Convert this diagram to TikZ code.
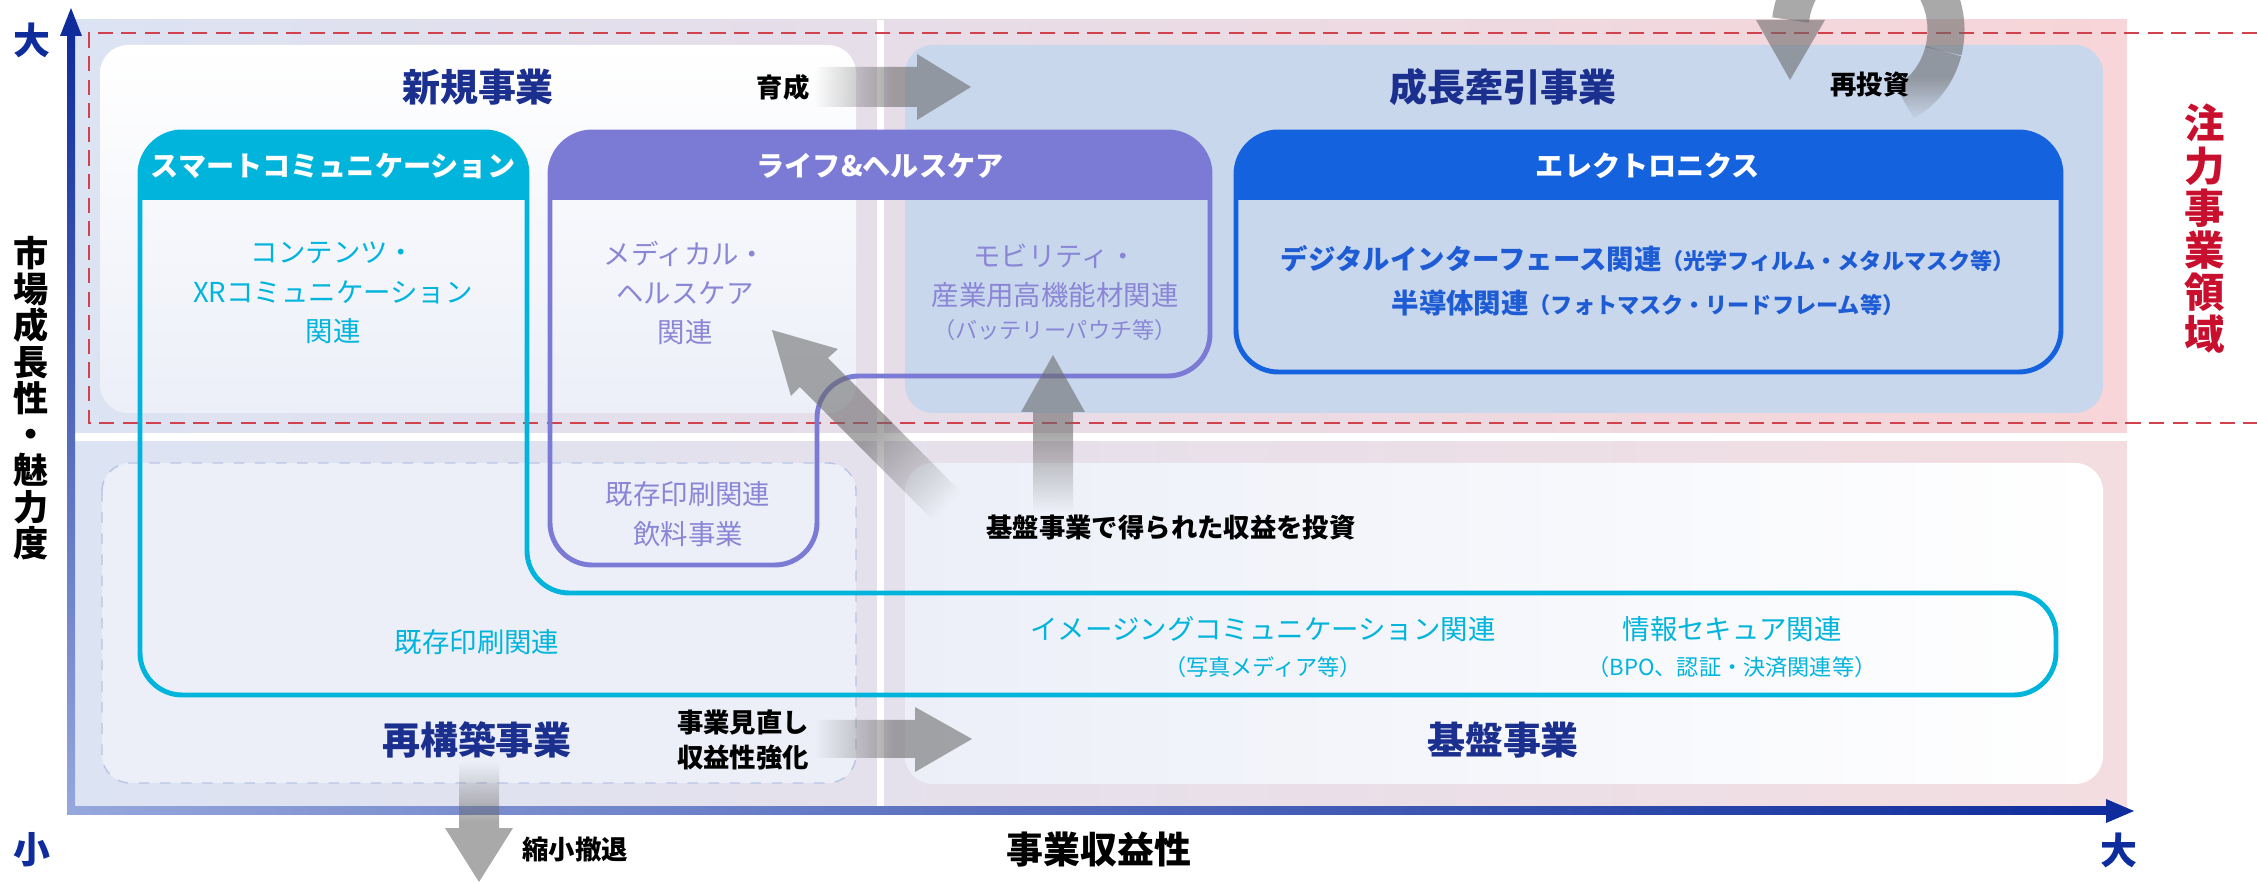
\documentclass[tikz,border=0pt]{standalone}
\usepackage{fontspec}
\setmainfont{Noto Sans CJK JP}
\usetikzlibrary{positioning,calc,fadings}

\definecolor{sectnavy}{HTML}{1B2F8F}
\definecolor{smartcyan}{HTML}{00B4DC}
\definecolor{lifepurple}{HTML}{7B7BD5}
\definecolor{lifetext}{HTML}{8A86D6}
\definecolor{elecblue}{HTML}{1462DE}
\definecolor{electext}{HTML}{1D5CD4}
\definecolor{focusred}{HTML}{C8102E}
\definecolor{dashred}{HTML}{D0424E}
\definecolor{panelblue}{HTML}{C9D7EC}
\definecolor{panellav}{HTML}{ECEFF8}
\definecolor{dashblue}{HTML}{B9C5E2}
\definecolor{bgblue}{HTML}{DCE3F3}
\definecolor{bgpinktop}{HTML}{F7D5D8}
\definecolor{bgpinkbot}{HTML}{F3DDE1}
\definecolor{axisdark}{HTML}{0E2C9C}
\definecolor{axislight}{HTML}{96A7DC}
\definecolor{arrowgray}{HTML}{6A6A6A}

\tikzfading[name=tailfade, left color=transparent!100, right color=transparent!0, middle color=transparent!0]

\tikzset{sect/.style={font=\fontsize{10.8}{13}\selectfont\bfseries, text=sectnavy}}
\tikzset{hdr/.style={font=\fontsize{8}{10}\selectfont\bfseries, text=white}}
\tikzset{body/.style={font=\fontsize{7.8}{11.2}\selectfont, align=center}}
\tikzset{tag/.style={font=\fontsize{7.5}{10.2}\selectfont\bfseries, align=center}}
\tikzset{gray arrow/.style={fill=arrowgray, fill opacity=0.58}}
\tikzset{outline/.style={line width=1.4pt, rounded corners=12}}
\newcommand{\parennote}{\fontsize{6.3}{8}\selectfont}

\begin{document}
\begin{tikzpicture}[x=0.01cm, y=-0.01cm]
  \useasboundingbox (0,0) rectangle (2257,883);
  \clip (0,0) rectangle (2257,883);

  % backdrop of the four quadrants
  \shade[left color=bgblue, right color=bgpinktop] (71,20) rectangle (2127,433);
  \shade[left color=bgblue, right color=bgpinkbot] (71,442) rectangle (2127,811);
  \fill[white] (877,20) rectangle (884,811);

  % quadrant panels
  \shade[top color=white, bottom color=panellav, rounded corners=8] (100,45) rectangle (856,413);
  \fill[panelblue, rounded corners=8] (905,45) rectangle (2103,413);
  \draw[dashblue, dashed, fill=panellav, rounded corners=8] (102,463) rectangle (856,783);
  \shade[left color=panellav, right color=white, rounded corners=8] (905,463) rectangle (2103,784);

  % focus zone
  \draw[dashred, line width=0.8pt, dash pattern=on 4.3pt off 2.4pt] (2257,33) -- (89,33) -- (89,423) -- (2257,423);

  % axes
  \coordinate (origin) at (71,811);
  \coordinate (ytip) at (71,8);
  \coordinate (xtip) at (2134,811);
  \shade[top color=axisdark, bottom color=axislight] (67,30) rectangle (75,811);
  \fill[axisdark] (ytip) -- ++(11,28) -- ++(-22,0) -- cycle;
  \shade[left color=axislight, right color=axisdark] (67,807) rectangle (2110,815);
  \fill[axisdark] (xtip) -- ++(-28,-12) -- ++(0,24) -- cycle;

  % category boxes
  \fill[smartcyan, rounded corners=12] (140,132) rectangle (527,200);
  \fill[smartcyan] (140,170) rectangle (527,200);
  \draw[smartcyan, outline] (140,132) -- (527,132) -- (527,593) -- (2056,593) -- (2056,695) -- (140,695) -- cycle;

  \fill[lifepurple, rounded corners=12] (550,132) rectangle (1210,200);
  \fill[lifepurple] (550,170) rectangle (1210,200);
  \draw[lifepurple, outline] (550,132) -- (1210,132) -- (1210,376) -- (817,376) -- (817,565) -- (550,565) -- cycle;

  \fill[elecblue, rounded corners=12] (1236,132) rectangle (2061,200);
  \fill[elecblue] (1236,170) rectangle (2061,200);
  \draw[elecblue, outline] (1236,132) rectangle (2061,372);

  % gray arrows
  \fill[gray arrow, path fading=tailfade] (815,67) -- (917,67) -- (917,54) -- (971,87) -- (917,120) -- (917,107) -- (815,107) -- cycle;
  \fill[gray arrow, path fading=tailfade] (815,720) -- (915,720) -- (915,707) -- (972,739) -- (915,772) -- (915,758) -- (815,758) -- cycle;
  \fill[gray arrow, path fading=tailfade, fading angle=-90] (459,762) -- (459,828) -- (445,828) -- (479,882) -- (513,828) -- (499,828) -- (499,762) -- cycle;
  \fill[gray arrow, path fading=tailfade, fading angle=90] (1033,512) -- (1033,412) -- (1021,412) -- (1053,355) -- (1085,412) -- (1073,412) -- (1073,512) -- cycle;
  \fill[gray arrow, path fading=tailfade, fading angle=135] (977,508) -- (828,358) -- (838,349) -- (772,330) -- (791,396) -- (800,387) -- (949,536) -- cycle;
  % reinvestment loop
  \fill[gray arrow] (1756,20) -- (1825,20) -- (1790,80) -- cycle;
  \draw[arrowgray, opacity=0.58, line width=0.37cm] plot[domain=-173:15, samples=60] ({1868+78*cos(\x)},{30+82*sin(\x)});
  \draw[arrowgray, opacity=0.58, line width=0.37cm, path fading=tailfade, fading angle=90] plot[domain=15:62, samples=20] ({1868+78*cos(\x)},{30+82*sin(\x)});

  % quadrant titles
  \node[sect] (newbiz) at (478,87) {新規事業};
  \node[sect] (growth) at (1503,87) {成長牽引事業};
  \node[sect] (restruct) at (477,740) {再構築事業};
  \node[sect] (core) at (1503,740) {基盤事業};

  % box headers
  \node[hdr] (smart) at (333,166) {スマートコミュニケーション};
  \node[hdr] (life) at (880,166) {ライフ\&ヘルスケア};
  \node[hdr] (elec) at (1648,166) {エレクトロニクス};

  % box contents
  \node[body, text=smartcyan] (xr) at (333,293) {コンテンツ・\\XRコミュニケーション\\関連};
  \node[body, text=lifetext] (medical) at (685,293) {メディカル・\\ヘルスケア\\関連};
  \node[body, text=lifetext] (mobility) at (1055,292) {モビリティ・\\産業用高機能材関連\\[-2pt]{\parennote （バッテリーパウチ等）}};
  \node[body, text=lifetext] (beverage) at (688,514) {既存印刷関連\\飲料事業};
  \node[body, text=smartcyan] (printing) at (477,642) {既存印刷関連};
  \node[body, text=smartcyan] (imaging) at (1263,647) {イメージングコミュニケーション関連\\[-1pt]{\parennote （写真メディア等）}};
  \node[body, text=smartcyan] (infosec) at (1732,647) {情報セキュア関連\\[-1pt]{\parennote （BPO、認証・決済関連等）}};
  \node[body, text=electext, font=\fontsize{7.8}{12.5}\selectfont\bfseries] (digital) at (1648,281)
    {デジタルインターフェース関連{\parennote （光学フィルム・メタルマスク等）}\\半導体関連{\parennote （フォトマスク・リードフレーム等）}};

  % arrow labels
  \node[tag] (nurture) at (783,87) {育成};
  \node[tag] (reinvest) at (1870,85) {再投資};
  \node[tag] (invest) at (1171,528) {基盤事業で得られた収益を投資};
  \node[tag] (review) at (743,740) {事業見直し\\収益性強化};
  \node[tag] (shrink) at (575,850) {縮小撤退};

  % axis labels
  \node[font=\fontsize{10.5}{12}\selectfont\bfseries, text=axisdark] (ybig) at (32,40) {大};
  \node[font=\fontsize{10.5}{12}\selectfont\bfseries, text=axisdark] (small) at (32,850) {小};
  \node[font=\fontsize{10.5}{12}\selectfont\bfseries, text=axisdark] (xbig) at (2119,850) {大};
  \node[font=\fontsize{10.5}{12}\selectfont\bfseries] (xlabel) at (1099,850) {事業収益性};
  \node[font=\fontsize{10}{10.3}\selectfont\bfseries, align=center] (ylabel) at (31,398)
    {市\\場\\成\\長\\性\\・\\魅\\力\\度};
  \node[font=\fontsize{11.5}{12}\selectfont\bfseries, align=center, text=focusred] (focus) at (2205,229)
    {注\\力\\事\\業\\領\\域};
\end{tikzpicture}
\end{document}
